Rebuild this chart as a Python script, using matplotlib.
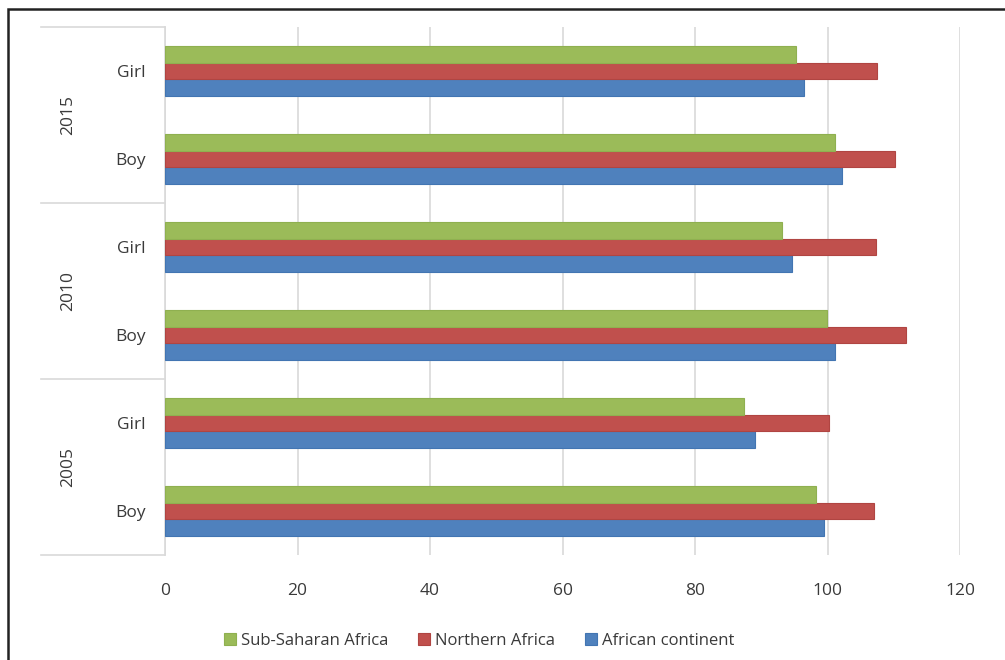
import matplotlib.pyplot as plt
import numpy as np
from matplotlib.patches import Rectangle

plt.rcParams['font.family'] = ['Open Sans', 'DejaVu Sans']

# categories, bottom to top
years = ['2005', '2010', '2015']
sexes = ['Boy', 'Girl']
series = ['Sub-Saharan Africa', 'Northern Africa', 'African continent']

# order: 2005 Boy, 2005 Girl, 2010 Boy, 2010 Girl, 2015 Boy, 2015 Girl
sub_saharan = [98.2, 87.4, 99.9, 93.2, 101.2, 95.2]
northern = [107.0, 100.2, 111.9, 107.3, 110.2, 107.4]
continent = [99.4, 89.0, 101.2, 94.6, 102.2, 96.5]

colors = {'green': '#9BBB59', 'red': '#C0504D', 'blue': '#4F81BD'}
edges = {'green': '#8FB050', 'red': '#B04542', 'blue': '#4275B2'}
text_col = '#3A3A3A'
grid_col = '#D9D9D9'

W, H = 1005, 660
fig = plt.figure(figsize=(W / 100, H / 100), dpi=100)
ax = fig.add_axes([165 / W, (H - 555) / H, (960 - 165) / W, (555 - 27) / H])

y = np.arange(len(sub_saharan))
h = 0.193
b3 = ax.barh(y - h, continent, height=h, color=colors['blue'], edgecolor=edges['blue'], linewidth=0.8, label=series[2], zorder=3)
b2 = ax.barh(y, northern, height=h, color=colors['red'], edgecolor=edges['red'], linewidth=0.8, label=series[1], zorder=3)
b1 = ax.barh(y + h, sub_saharan, height=h, color=colors['green'], edgecolor=edges['green'], linewidth=0.8, label=series[0], zorder=3)

ax.set_xlim(0, 120)
ax.set_ylim(-0.5, len(y) - 0.5)
ax.set_xticks(np.arange(0, 121, 20))
ax.xaxis.grid(True, color=grid_col, linewidth=1.2, zorder=0)
ax.set_axisbelow(True)
for s in ['top', 'right', 'bottom']:
    ax.spines[s].set_visible(False)
ax.spines['left'].set_color(grid_col)
ax.spines['left'].set_linewidth(1.2)

ax.set_yticks(y)
ax.set_yticklabels(sexes * len(years))
ax.tick_params(axis='y', length=0, pad=14, labelsize=12.5, labelcolor=text_col)
ax.tick_params(axis='x', length=0, pad=20, labelsize=12.5, labelcolor=text_col)

# multi-level category axis: year labels and separators
tr = ax.get_yaxis_transform()
x_line = (41 - 165) / (960 - 165)
x_year = (68 - 165) / (960 - 165)
for i, yr in enumerate(years):
    ax.text(x_year, 2 * i + 0.5, yr, transform=tr, rotation=90, ha='center', va='center',
            fontsize=12.5, color=text_col)
for b in [-0.5, 1.5, 3.5, 5.5]:
    ax.plot([x_line, 0], [b, b], transform=tr, color=grid_col, linewidth=1.2, clip_on=False)

leg = fig.legend(handles=[b1, b2, b3], loc='center', bbox_to_anchor=(479 / W, 1 - 641 / H),
                 ncol=3, frameon=False, fontsize=12, handlelength=0.7, handleheight=0.7,
                 handletextpad=0.3, columnspacing=1.8)
for t in leg.get_texts():
    t.set_color(text_col)

# outer border
fig.patches.append(Rectangle((8 / W, -0.1), 2, 0.1 + (H - 9) / H, transform=fig.transFigure,
                             fill=False, edgecolor='#222222', linewidth=1.8))

fig.savefig('out.png', dpi=100)
